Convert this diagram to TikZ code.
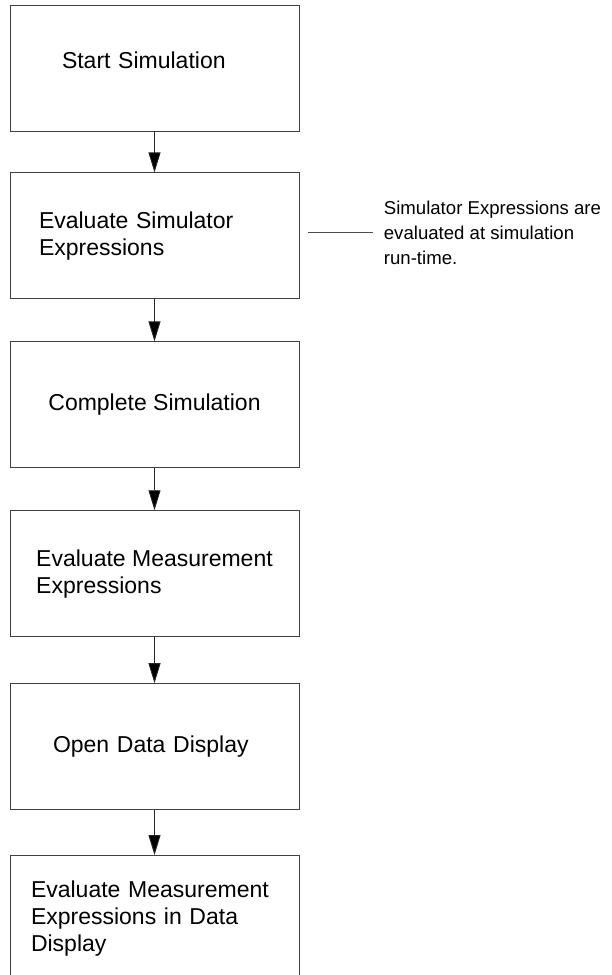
\documentclass[tikz,border=0pt]{standalone}
\usepackage{fontspec}
\setmainfont{Liberation Sans}
\usetikzlibrary{arrows.meta,positioning}

\begin{document}
\begin{tikzpicture}[x=1pt,y=1pt,->,>={Triangle[length=20pt,width=12pt]},
  line width=0.9pt,node distance=43pt,
  flow box/.style={draw=black!75,minimum width=289pt,minimum height=126pt,
    inner xsep=0pt,align=left,font=\fontsize{23}{27}\selectfont},
  note text/.style={inner sep=0pt,align=left,font=\fontsize{18.6}{25}\selectfont}]

  \useasboundingbox (0,0) rectangle (611,-975);

  \node[flow box,text width=185pt,text depth=15pt] (start) at (154.5,-68) {Start Simulation};
  \node[flow box,text width=231pt] (evalsim) [below=41pt of start] {Evaluate Simulator\\Expressions};
  \node[flow box] (complete) [below=42pt of evalsim] {Complete Simulation};
  \node[flow box] (evalmeas) [below=42pt of complete] {Evaluate Measurement\\Expressions};
  \node[flow box,text width=203pt] (opendd) [below=46pt of evalmeas] {Open Data Display};
  \node[flow box,text width=247pt] (evaldd) [below=45pt of opendd] {Evaluate Measurement\\Expressions in Data\\Display};

  \node[note text] (note) [right=84pt of evalsim,yshift=3pt] {Simulator Expressions are\\evaluated at simulation\\run-time.};

  \path[draw=black!85]
    (start) edge (evalsim)
    (evalsim) edge (complete)
    (complete) edge (evalmeas)
    (evalmeas) edge (opendd)
    (opendd) edge (evaldd);

  \draw[-,black!70,shorten <=9pt,shorten >=10pt] (evalsim.east |- note.west) -- (note.west);

\end{tikzpicture}
\end{document}
